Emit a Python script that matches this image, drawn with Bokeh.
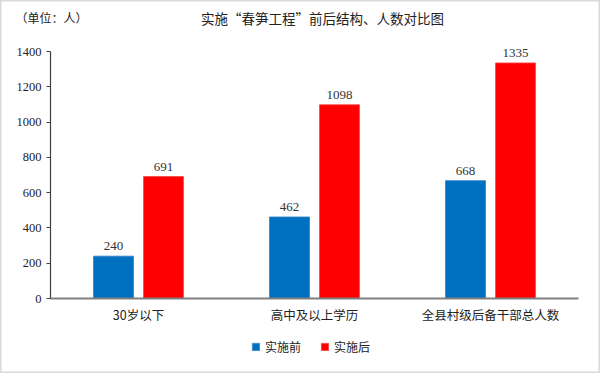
from bokeh.plotting import figure
from bokeh.models import ColumnDataSource, Range1d, Label, Legend, LegendItem, FixedTicker
from bokeh.transform import dodge
from bokeh.core.properties import value
from bokeh.embed import file_html
from bokeh.resources import INLINE

categories = ["30岁以下", "高中及以上学历", "全县村级后备干部总人数"]
before = [240, 462, 668]
after = [691, 1098, 1335]
series_names = ["实施前", "实施后"]
y_ticks = [0, 200, 400, 600, 800, 1000, 1200, 1400]
title_text = "实施“春笋工程”前后结构、人数对比图"
unit_text = "（单位：人）"

BLUE = "#0070C0"
RED = "#FF0000"
CJK = "Noto Sans CJK SC"
SERIF = "Liberation Serif"

# layout (pixels)
W, H = 600, 373
CAT_W = 176.0      # width of one category slot
FIRST_C = 138.0    # pixel centre of first category
BASE_Y = 298.0     # pixel row of value 0
TOP_Y = 51.0       # pixel row of value 1400
Y_MAX = 1400
K = (BASE_Y - TOP_Y) / Y_MAX  # px per unit


def dx(px):
    return (px - FIRST_C) / CAT_W


def dy(py):
    return (BASE_Y - py) / K


idx = list(range(len(categories)))
src = ColumnDataSource(dict(
    x=idx, before=before, after=after,
    before_txt=[str(v) for v in before], after_txt=[str(v) for v in after],
))

p = figure(width=W, height=H, output_backend="svg", toolbar_location=None,
           x_range=Range1d(dx(0), dx(W)), y_range=Range1d(dy(H), dy(0)),
           min_border=0, min_border_left=0, min_border_right=0,
           min_border_top=0, min_border_bottom=0)
p.outline_line_color = "#D9D9D9"
p.outline_line_width = 2
p.grid.grid_line_color = None
p.background_fill_color = "white"
p.border_fill_color = "white"

OFF = 0.142
BW = 0.227
r1 = p.vbar(x=dodge("x", -OFF), top="before", width=BW, source=src,
            fill_color=BLUE, line_color="#2E7FC8", line_width=0.8)
r2 = p.vbar(x=dodge("x", OFF), top="after", width=BW, source=src,
            fill_color=RED, line_color="#FF4040", line_width=0.8)

p.text(x=dodge("x", -OFF), y="before", text="before_txt", source=src,
       text_font=value(SERIF), text_font_size="13px", text_align="center",
       text_baseline="bottom", y_offset=-6, text_color="#333333")
p.text(x=dodge("x", OFF), y="after", text="after_txt", source=src,
       text_font=value(SERIF), text_font_size="13px", text_align="center",
       text_baseline="bottom", y_offset=-6, text_color="#333333")

# axes
xa = p.xaxis[0]
xa.fixed_location = 0
xa.bounds = (-0.5, len(categories) - 0.5)
xa.ticker = FixedTicker(ticks=idx)
xa.major_label_overrides = {i: c for i, c in zip(idx, categories)}
xa.axis_line_color = "#808080"
xa.axis_line_width = 2
xa.major_tick_line_color = None
xa.major_tick_out = 0
xa.major_tick_in = 0
xa.minor_tick_line_color = None
xa.major_label_text_font = CJK
xa.major_label_text_font_size = "12.5px"
xa.major_label_text_color = "#222222"
xa.major_label_standoff = 6

ya = p.yaxis[0]
ya.fixed_location = -0.5
ya.bounds = (0, Y_MAX)
ya.ticker = FixedTicker(ticks=y_ticks)
ya.axis_line_color = "#404040"
ya.axis_line_width = 1.2
ya.major_tick_line_color = "#404040"
ya.major_tick_out = 4
ya.major_tick_in = 0
ya.minor_tick_line_color = None
ya.major_label_text_font = SERIF
ya.major_label_text_font_size = "12.5px"
ya.major_label_text_color = "#222222"
ya.major_label_standoff = 5

# title and unit
p.add_layout(Label(x=dx(322), y=dy(17), text=title_text,
                   text_font=CJK, text_font_size="13.5px", text_align="center",
                   text_baseline="middle", text_color="#222222"))
p.add_layout(Label(x=dx(15), y=dy(17), text=unit_text,
                   text_font=CJK, text_font_size="12px", text_align="left",
                   text_baseline="middle", text_color="#222222"))

legend = Legend(items=[LegendItem(label=series_names[0], renderers=[r1]),
                       LegendItem(label=series_names[1], renderers=[r2])],
                location=(251, 18), orientation="horizontal",
                glyph_width=9, glyph_height=9, label_standoff=5, spacing=19,
                padding=0, margin=0, border_line_color=None, background_fill_alpha=0,
                label_text_font=CJK, label_text_font_size="12px", label_text_color="#222222",
                label_height=16)
p.add_layout(legend)

open("out.html", "w").write(file_html(p, INLINE))
